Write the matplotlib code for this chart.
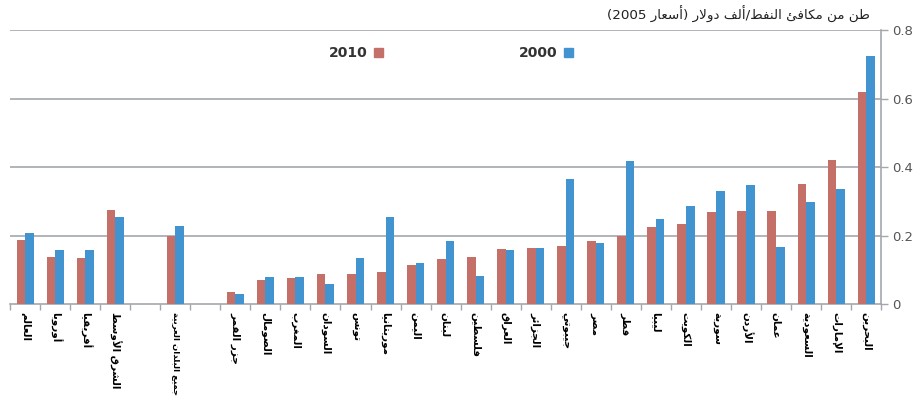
import numpy as np
import matplotlib
matplotlib.use('Agg')
import matplotlib.pyplot as plt
from matplotlib.patches import Patch

# categories, left to right as drawn ('' = empty slot)
categories = ['العالم', 'أوروبا', 'أفريقيا', 'الشرق الأوسط', '',
              'جميع البلدان العربية', '',
              'جزر القمر', 'الصومال', 'المغرب', 'السودان', 'تونس', 'موريتانيا',
              'اليمن', 'لبنان', 'فلسطين', 'العراق', 'الجزائر', 'جيبوتي', 'مصر',
              'قطر', 'ليبيا', 'الكويت', 'سورية', 'الأردن', 'عُمان', 'السعودية',
              'الإمارات', 'البحرين']

values_2010 = [0.187, 0.136, 0.133, 0.276, None,
               0.199, None,
               0.034, 0.071, 0.075, 0.087, 0.089, 0.094,
               0.113, 0.131, 0.138, 0.161, 0.164, 0.168, 0.183,
               0.200, 0.224, 0.233, 0.269, 0.272, 0.272, 0.350,
               0.420, 0.620]

values_2000 = [0.206, 0.157, 0.159, 0.255, None,
               0.229, None,
               0.030, 0.080, 0.079, 0.058, 0.134, 0.255,
               0.119, 0.183, 0.082, 0.157, 0.164, 0.364, 0.179,
               0.417, 0.248, 0.287, 0.330, 0.347, 0.166, 0.298,
               0.337, 0.725]

y_ticks = [0, 0.2, 0.4, 0.6, 0.8]
y_tick_labels = ['0', '0.2', '0.4', '0.6', '0.8']
title = 'طن من مكافئ النفط/ألف دولار (أسعار 2005)'
series_names = ['2010', '2000']

RED = '#C46F67'
BLUE = '#4294D0'
GRID = '#A3A7AB'

# --- minimal arabic shaping (no bidi libs available) ---
DUAL = {'ئ': 0xFE89, 'ب': 0xFE8F, 'ت': 0xFE95, 'ث': 0xFE99, 'ج': 0xFE9D,
        'ح': 0xFEA1, 'خ': 0xFEA5, 'س': 0xFEB1, 'ش': 0xFEB5, 'ص': 0xFEB9,
        'ض': 0xFEBD, 'ط': 0xFEC1, 'ظ': 0xFEC5, 'ع': 0xFEC9, 'غ': 0xFECD,
        'ف': 0xFED1, 'ق': 0xFED5, 'ك': 0xFED9, 'ل': 0xFEDD, 'م': 0xFEE1,
        'ن': 0xFEE5, 'ه': 0xFEE9, 'ي': 0xFEF1}
RIGHT = {'آ': 0xFE81, 'أ': 0xFE83, 'ؤ': 0xFE85, 'إ': 0xFE87, 'ا': 0xFE8D,
         'ة': 0xFE93, 'د': 0xFEA9, 'ذ': 0xFEAB, 'ر': 0xFEAD, 'ز': 0xFEAF,
         'و': 0xFEED, 'ى': 0xFEEF}
LAMALEF = {'آ': 0xFEF5, 'أ': 0xFEF7, 'إ': 0xFEF9, 'ا': 0xFEFB}


def shape(text):
    chars = [c for c in text if not (0x064B <= ord(c) <= 0x0652)]
    out = []
    i = 0
    n = len(chars)
    while i < n:
        c = chars[i]
        prev_j = i > 0 and chars[i - 1] in DUAL
        if c == 'ل' and i + 1 < n and chars[i + 1] in LAMALEF:
            out.append(chr(LAMALEF[chars[i + 1]] + (1 if prev_j else 0)))
            i += 2
            continue
        next_j = i + 1 < n and (chars[i + 1] in DUAL or chars[i + 1] in RIGHT)
        if c in DUAL:
            base = DUAL[c]
            if prev_j and next_j:
                out.append(chr(base + 3))
            elif prev_j:
                out.append(chr(base + 1))
            elif next_j:
                out.append(chr(base + 2))
            else:
                out.append(chr(base))
        elif c in RIGHT:
            out.append(chr(RIGHT[c] + (1 if prev_j else 0)))
        elif c == 'ء':
            out.append(chr(0xFE80))
        else:
            out.append(c)
        i += 1
    # visual order: reverse, then put digit runs back and mirror brackets
    vis = ''.join(out)[::-1]
    res, run = [], ''
    for c in vis:
        if c.isdigit():
            run += c
            continue
        if run:
            res.append(run[::-1])
            run = ''
        res.append({'(': ')', ')': '('}.get(c, c))
    if run:
        res.append(run[::-1])
    return ''.join(res)


plt.rcParams['font.family'] = ['DejaVu Sans']

fig = plt.figure(figsize=(9.16, 4.04), dpi=100)
ax = fig.add_axes([0.011, 0.2475, 0.951, 0.678])

x = np.arange(len(categories))
w = 0.285
idx = [i for i, v in enumerate(values_2010) if v is not None]
ax.bar(x[idx] - w / 2, [values_2010[i] for i in idx], width=w, color=RED, zorder=3)
ax.bar(x[idx] + w / 2, [values_2000[i] for i in idx], width=w, color=BLUE, zorder=3)

ax.set_xlim(-0.5, len(categories) - 0.5)
ax.set_ylim(0, 0.8)

# y axis on the right
ax.yaxis.tick_right()
ax.set_yticks(y_ticks)
ax.set_yticklabels(y_tick_labels)
ax.tick_params(axis='y', direction='out', length=5, width=1, color=GRID,
               labelcolor='#555555', labelsize=9.5, pad=3)
for yv in y_ticks[1:]:
    ax.axhline(yv, color=GRID, linewidth=1.2, zorder=1)

# x ticks on slot boundaries, labels in the middle
ax.set_xticks(np.arange(len(categories) + 1) - 0.5)
ax.set_xticklabels([])
ax.set_xticks(x, minor=True)
labels = ax.set_xticklabels([shape(c) for c in categories], minor=True, rotation=-90,
                            fontsize=7.5, fontweight='bold', va='top', ha='center')
# the long aggregate label has to fit above the bottom edge
for lab, c in zip(labels, categories):
    if len(c) > 15:
        lab.set_fontsize(6.1)
ax.tick_params(axis='x', which='major', direction='out', length=4, width=1, color=GRID)
ax.tick_params(axis='x', which='minor', length=0, pad=6)

for s in ['top', 'left']:
    ax.spines[s].set_visible(False)
ax.spines['right'].set_color(GRID)
ax.spines['bottom'].set_color(GRID)
ax.spines['right'].set_linewidth(1.2)
ax.spines['bottom'].set_linewidth(1.2)

handles = [Patch(color=RED), Patch(color=BLUE)]
leg = ax.legend(handles, series_names, ncol=2, markerfirst=False, frameon=False,
                loc='center left', bbox_to_anchor=(0.352, 0.915),
                handlelength=0.7, handleheight=0.7, handletextpad=0.4,
                columnspacing=9.8, prop={'size': 10, 'weight': 'bold'})
for t in leg.get_texts():
    t.set_color('#333333')

fig.text(870 / 916, 1 - 14 / 404, shape(title), ha='right', va='center',
         fontsize=9.7, color='#222222')

fig.savefig('out.png', dpi=100)
